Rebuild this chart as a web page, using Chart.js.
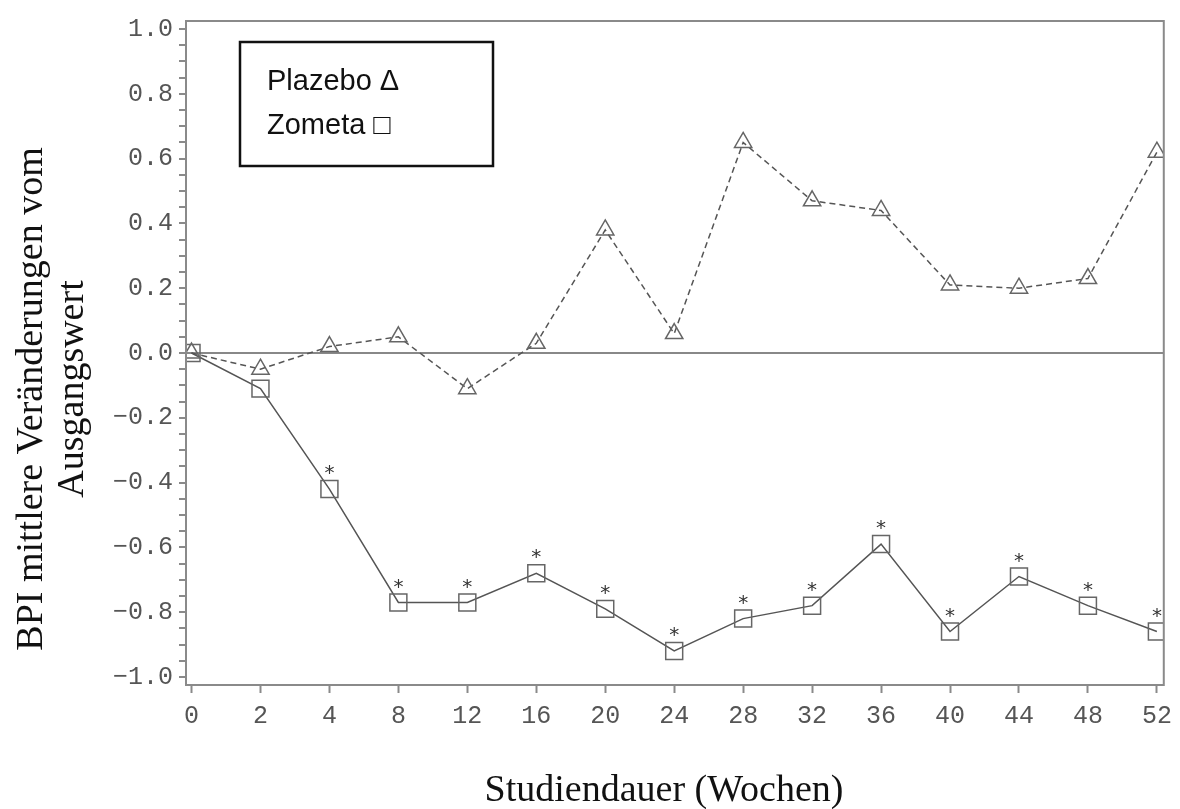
<!DOCTYPE html>
<html>
<head>
<meta charset="utf-8">
<script src="https://cdn.jsdelivr.net/npm/chart.js@4.4.1/dist/chart.umd.min.js"></script>
<style>
  html, body { margin: 0; padding: 0; background: #fff; }
  canvas { display: block; }
</style>
</head>
<body>
<canvas id="chart1" width="1180" height="809"></canvas>
<script>
// ---- data ----
const weeks = ['0', '2', '4', '8', '12', '16', '20', '24', '28', '32', '36', '40', '44', '48', '52'];
const plazebo = [0.0, -0.05, 0.02, 0.05, -0.11, 0.03, 0.38, 0.06, 0.65, 0.47, 0.44, 0.21, 0.20, 0.23, 0.62];
const zometa = [0.0, -0.11, -0.42, -0.77, -0.77, -0.68, -0.79, -0.92, -0.82, -0.78, -0.59, -0.86, -0.69, -0.78, -0.86];
const zometaStars = [false, false, true, true, true, true, true, true, true, true, true, true, true, true, true];
const yTickLabels = ['\u22121.0', '\u22120.8', '\u22120.6', '\u22120.4', '\u22120.2', '0.0', '0.2', '0.4', '0.6', '0.8', '1.0'];
const legendLines = ['Plazebo \u0394', 'Zometa \u25A1'];
const yTitle = ['BPI mittlere Ver\u00e4nderungen vom', 'Ausgangswert'];
const xTitle = 'Studiendauer (Wochen)';

const axisGray = '#8a8a8a';
const lineGray = '#555';
const serif = '"Liberation Serif", "Times New Roman", serif';
const mono = '"Liberation Mono", "Courier New", monospace';

// points as {x: index, y: value}
function toPoints(arr) {
  let out = [];
  for (let i = 0; i < arr.length; i++) out.push({ x: i, y: arr[i] });
  return out;
}

// frame round the plot area, legend box, axis titles
const framePlugin = {
  id: 'frame',
  afterDraw(chart) {
    const ctx = chart.ctx;
    const a = chart.chartArea;
    ctx.save();
    ctx.strokeStyle = axisGray;
    ctx.lineWidth = 2;
    ctx.strokeRect(a.left, a.top, a.right - a.left, a.bottom - a.top);

    // legend box
    ctx.strokeStyle = '#111';
    ctx.lineWidth = 2.5;
    ctx.strokeRect(240, 42, 253, 124);
    ctx.fillStyle = '#111';
    ctx.font = '29px "Liberation Sans", Arial, sans-serif';
    ctx.textBaseline = 'middle';
    ctx.fillText(legendLines[0], 267, 82);
    ctx.fillText(legendLines[1], 267, 126);

    // axis titles
    ctx.font = '38px ' + serif;
    ctx.textAlign = 'center';
    ctx.textBaseline = 'alphabetic';
    ctx.fillText(xTitle, 664, 801);

    ctx.save();
    ctx.translate(42, 399);
    ctx.rotate(-Math.PI / 2);
    ctx.fillText(yTitle[0], 0, 0);
    ctx.restore();
    ctx.save();
    ctx.translate(83, 389);
    ctx.rotate(-Math.PI / 2);
    ctx.fillText(yTitle[1], 0, 0);
    ctx.restore();
    ctx.restore();
  }
};

// asterisks above the significant zometa points
const starPlugin = {
  id: 'stars',
  afterDatasetsDraw(chart) {
    const meta = chart.getDatasetMeta(1);
    const ctx = chart.ctx;
    ctx.save();
    ctx.fillStyle = '#333';
    ctx.font = '20px "DejaVu Sans", sans-serif';
    ctx.textAlign = 'center';
    ctx.textBaseline = 'middle';
    meta.data.forEach((pt, i) => {
      if (zometaStars[i]) ctx.fillText('*', pt.x, pt.y - 15);
    });
    ctx.restore();
  }
};

const config = {
  type: 'scatter',
  data: {
    datasets: [
      {
        label: 'Plazebo',
        data: toPoints(plazebo),
        showLine: true,
        borderColor: lineGray,
        borderWidth: 1.5,
        borderDash: [6, 4],
        pointStyle: 'triangle',
        pointRadius: 10,
        pointBorderColor: '#666',
        pointBackgroundColor: 'rgba(0,0,0,0)',
        pointBorderWidth: 1.5
      },
      {
        label: 'Zometa',
        data: toPoints(zometa),
        showLine: true,
        borderColor: lineGray,
        borderWidth: 1.5,
        pointStyle: 'rect',
        pointRadius: 12,
        pointBorderColor: '#666',
        pointBackgroundColor: 'rgba(0,0,0,0)',
        pointBorderWidth: 1.5
      }
    ]
  },
  options: {
    responsive: false,
    animation: false,
    layout: { padding: { left: 0, right: 16, top: 12, bottom: 0 } },
    plugins: {
      legend: { display: false },
      tooltip: { enabled: false }
    },
    scales: {
      x: {
        type: 'linear',
        min: -0.08,
        max: 14.1,
        afterBuildTicks(scale) {
          scale.ticks = weeks.map((w, i) => ({ value: i }));
        },
        afterFit(scale) { scale.height = 124; },
        ticks: {
          callback: (v) => weeks[v],
          font: { family: mono, size: 25 },
          color: '#555',
          padding: 8,
          maxRotation: 0,
          autoSkip: false
        },
        grid: {
          drawOnChartArea: false,
          drawTicks: true,
          tickLength: 8,
          tickColor: axisGray,
          tickWidth: 2
        },
        border: { display: true, color: axisGray, width: 2 }
      },
      y: {
        min: -1.025,
        max: 1.025,
        afterBuildTicks(scale) {
          let t = [];
          for (let k = -20; k <= 20; k++) t.push({ value: k * 0.05 });
          scale.ticks = t;
        },
        afterFit(scale) { scale.width = 186; },
        ticks: {
          callback: (v) => {
            const k = Math.round(v / 0.05);
            if (k % 4 !== 0) return '';
            return yTickLabels[k / 4 + 5];
          },
          font: { family: mono, size: 25 },
          color: '#555',
          padding: 6,
          autoSkip: false
        },
        grid: {
          drawOnChartArea: true,
          drawTicks: true,
          tickLength: 7,
          tickColor: axisGray,
          tickWidth: 2,
          color: (c) => (c.tick && Math.abs(c.tick.value) < 1e-9 ? '#888' : 'rgba(0,0,0,0)'),
          lineWidth: 2
        },
        border: { display: true, color: axisGray, width: 2 }
      }
    }
  },
  plugins: [framePlugin, starPlugin]
};

const myChart = new Chart(document.getElementById('chart1'), config);
</script>
</body>
</html>
